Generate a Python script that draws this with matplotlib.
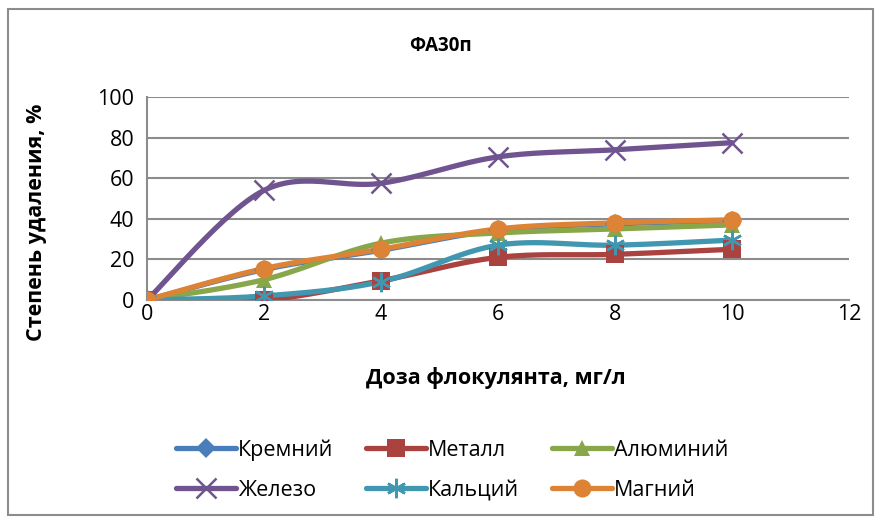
import matplotlib.pyplot as plt
import numpy as np
from matplotlib.patches import Rectangle

plt.rcParams['font.family'] = ['Open Sans', 'DejaVu Sans']

# дозы флокулянта и степень удаления по каждому элементу
doses = [0, 2, 4, 6, 8, 10]
names = ['Кремний', 'Металл', 'Алюминий', 'Железо', 'Кальций', 'Магний']
kremniy = [0, 15, 24.5, 34.5, 37.5, 39]
metall = [0, 0, 9.5, 21, 22.5, 25]
alyuminiy = [0, 10, 28, 33, 35, 37]
zhelezo = [0, 54, 57.5, 70.5, 74, 77.5]
kalciy = [0, 2, 9, 27, 27, 29.5]
magniy = [0, 15.5, 25, 35, 38, 39.5]

colors = ['#4A7EBB', '#AA423F', '#88A64A', '#70548F', '#4197B0', '#DD8336']
markers = ['D', 's', '^', 'x', (6, 2, 0), 'o']
msizes = [10, 13, 12, 14, 14, 13]


def smooth(x, y, n=30):
    # сглаживание как в Excel: кубические Безье через соседние точки
    x = np.asarray(x, float)
    y = np.asarray(y, float)
    p = np.column_stack([x, y])
    out = [p[0]]
    t = np.linspace(0, 1, n)[1:]
    for i in range(len(p) - 1):
        p0 = p[i - 1] if i > 0 else p[i]
        p3 = p[i + 2] if i + 2 < len(p) else p[i + 1]
        c1 = p[i] + (p[i + 1] - p0) / 6
        c2 = p[i + 1] - (p3 - p[i]) / 6
        seg = ((1 - t) ** 3)[:, None] * p[i] + (3 * (1 - t) ** 2 * t)[:, None] * c1 \
            + (3 * (1 - t) * t ** 2)[:, None] * c2 + (t ** 3)[:, None] * p[i + 1]
        out.extend(seg)
    out = np.array(out)
    return out[:, 0], out[:, 1]


fig = plt.figure(figsize=(8.82, 5.25), dpi=100)
ax = fig.add_axes([147 / 882, 1 - 300 / 525, 702 / 882, 203 / 525])

series = [kremniy, metall, alyuminiy, zhelezo, kalciy, magniy]
handles = []
for name, vals, c, m, ms in zip(names, series, colors, markers, msizes):
    sx, sy = smooth(doses, vals)
    ax.plot(sx, sy, color=c, lw=3.8, solid_capstyle='round', zorder=3)
    thin = m in ('x', (6, 2, 0))
    ax.plot(doses, vals, ls='none', marker=m, ms=ms, color=c,
            mew=1.8 if thin else 0, zorder=4)
    h, = ax.plot([], [], color=c, lw=3.8, marker=m, ms=ms,
                 mew=1.8 if thin else 0, solid_capstyle='round', label=name)
    handles.append(h)

ax.set_xlim(0, 12)
ax.set_ylim(0, 100)
ax.set_xticks(range(0, 13, 2))
ax.set_yticks(range(0, 101, 20))
ax.grid(axis='y', color='#8C8C8C', lw=1.5)
ax.set_axisbelow(True)
for s in ['top', 'right']:
    ax.spines[s].set_visible(False)
for s in ['left', 'bottom']:
    ax.spines[s].set_color('#8C8C8C')
    ax.spines[s].set_linewidth(1.5)
ax.tick_params(axis='both', length=0, labelsize=15.5)
ax.tick_params(axis='x', pad=3)
ax.tick_params(axis='y', pad=9)

fig.text(0.499, 1 - 46 / 525, 'ФА30п', ha='center', va='center',
         fontsize=13.5, fontweight='bold')
fig.text(37 / 882, 1 - 222 / 525, 'Степень удаления, %', rotation=90,
         ha='center', va='center', fontsize=15.5, fontweight='bold')
fig.text(496 / 882, 1 - 378 / 525, 'Доза флокулянта, мг/л', ha='center',
         va='center', fontsize=15.5, fontweight='bold')

# легенда по строкам: три элемента в строке
order = [0, 3, 1, 4, 2, 5]
fig.legend([handles[i] for i in order], [names[i] for i in order],
           loc='center', bbox_to_anchor=(452 / 882, 1 - 470 / 525), ncol=3,
           frameon=False, fontsize=15.5, handlelength=2.8, handletextpad=0.1,
           columnspacing=1.5, labelspacing=0.9)

fig.patches.append(Rectangle((8 / 882, 1 - 515 / 525), 865 / 882, 506 / 525,
                             transform=fig.transFigure, fill=False,
                             edgecolor='#8C8C8C', lw=1.5))

fig.savefig('out.png', dpi=100)
